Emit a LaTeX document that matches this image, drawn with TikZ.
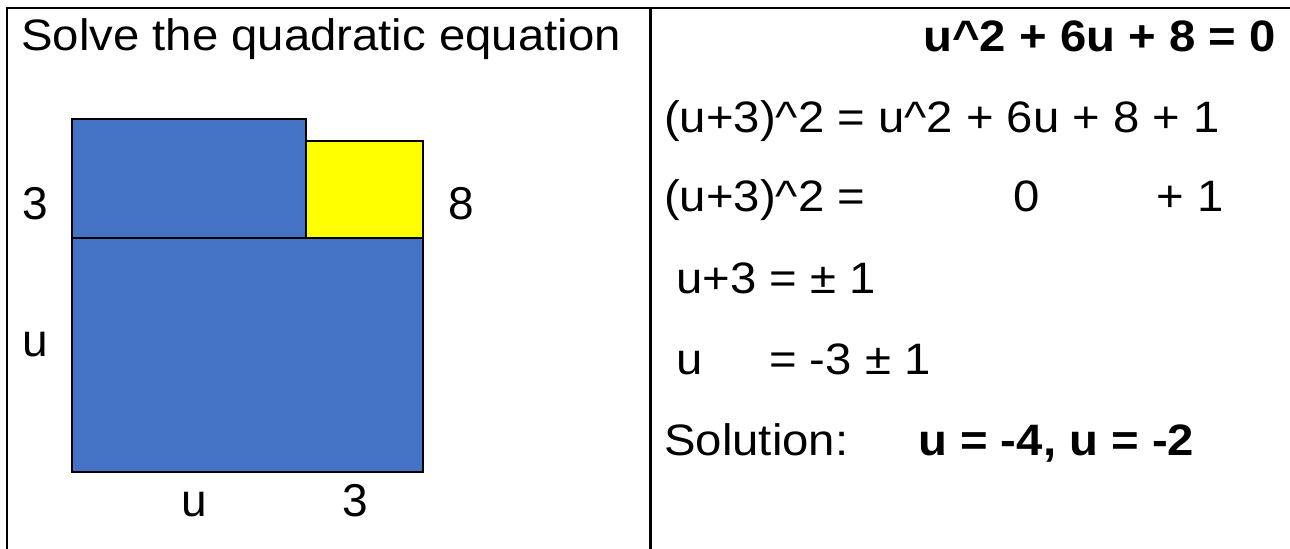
\documentclass[tikz,border=0pt]{standalone}
\usepackage{fontspec}
\usepackage{graphicx}
\setmainfont{Liberation Sans}
\definecolor{tileblue}{HTML}{4472C4}
\definecolor{tileyellow}{HTML}{FFFF00}
\newcommand{\wide}[1]{\scalebox{1.075}[1]{#1}}
\tikzset{
  frameline/.style={line width=2.5bp, black},
  tile/.style={draw=black, line width=1.8bp},
  lbl/.style={inner sep=0pt, font=\fontsize{46bp}{56bp}\selectfont},
  txt/.style={inner sep=0pt, font=\fontsize{44bp}{52bp}\selectfont},
  btxt/.style={inner sep=0pt, font=\fontsize{44bp}{52bp}\selectfont\bfseries},
}
\begin{document}
\begin{tikzpicture}[x=1bp,y=-1bp]
\useasboundingbox (0,0) rectangle (1290,549);
\fill[white] (0,0) rectangle (1290,549);
% frame
\draw[frameline] (7,549) -- (7,8) -- (1290,8);
\draw[frameline] (650.5,8) -- (650.5,549);
% tiles
\draw[tile, fill=tileblue] (72,119) rectangle (306,238);
\draw[tile, fill=tileyellow] (306,141) rectangle (423,238);
\draw[tile, fill=tileblue] (72,238) rectangle (423,472);
% left texts
\node[txt, anchor=base west] (title) at (21,51) {\wide{Solve the quadratic equation}};
\node[lbl, anchor=base] (l3) at (35,220) {3};
\node[lbl, anchor=base] (l8) at (461,220) {8};
\node[lbl, anchor=base] (lu) at (35,357) {u};
\node[lbl, anchor=base] (bu) at (194,516) {u};
\node[lbl, anchor=base] (b3) at (355,516) {3};
% right texts
\node[btxt, anchor=base east] (eq) at (1276,52) {\wide{u\^{}2 + 6u + 8 = 0}};
\node[txt, anchor=base west] (s1) at (664,133) {\wide{(u+3)\^{}2 = u\^{}2 + 6u + 8 + 1}};
\node[txt, anchor=base west] (s2a) at (664,212) {\wide{(u+3)\^{}2 =}};
\node[txt, anchor=base] (s2b) at (1027,212) {\wide{0}};
\node[txt, anchor=base east] (s2c) at (1224,212) {\wide{+ 1}};
\node[txt, anchor=base west] (s3) at (676,294) {\wide{u+3 = ± 1}};
\node[txt, anchor=base west] (s4a) at (676,375) {\wide{u}};
\node[txt, anchor=base west] (s4b) at (769,375) {\wide{= -3 ± 1}};
\node[txt, anchor=base west] (sol) at (664,455) {\wide{Solution:}};
\node[btxt, anchor=base west] (ans) at (918,455) {\wide{u = -4, u = -2}};
\end{tikzpicture}
\end{document}
